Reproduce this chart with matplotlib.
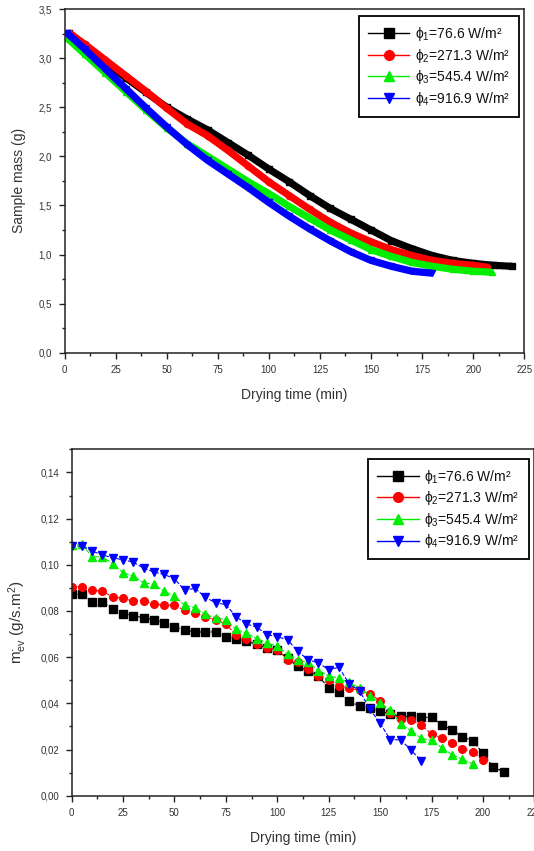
import matplotlib.pyplot as plt
from matplotlib.lines import Line2D
from matplotlib.ticker import MultipleLocator, FuncFormatter

plt.rcParams['font.family'] = ['Liberation Sans', 'DejaVu Sans']
plt.rcParams['mathtext.fontset'] = 'custom'
plt.rcParams['mathtext.rm'] = 'Liberation Sans'
plt.rcParams['mathtext.it'] = 'Liberation Sans'

labels = ['ϕ$_1$=76.6 W/m²', 'ϕ$_2$=271.3 W/m²', 'ϕ$_3$=545.4 W/m²', 'ϕ$_4$=916.9 W/m²']
colors = ['#000000', '#ff0000', '#00ee00', '#0000ff']
markers = ['s', 'o', '^', 'v']

# top chart: sample mass (g) vs drying time (min)
t_mass_1 = [2, 10, 20, 30, 40, 50, 60, 70, 80, 90, 100, 110, 120, 130, 140, 150, 160, 170, 180, 190, 200, 210, 219]
mass_1 = [3.26, 3.13, 2.96, 2.80, 2.65, 2.50, 2.38, 2.27, 2.14, 2.01, 1.87, 1.74, 1.60, 1.47, 1.36, 1.25,
          1.14, 1.06, 0.99, 0.94, 0.91, 0.89, 0.88]
t_mass_2 = [2, 10, 20, 30, 40, 50, 60, 70, 80, 90, 100, 110, 120, 130, 140, 150, 160, 170, 180, 190, 200, 207]
mass_2 = [3.26, 3.14, 2.98, 2.82, 2.66, 2.49, 2.33, 2.21, 2.06, 1.90, 1.74, 1.60, 1.46, 1.33, 1.22, 1.13,
          1.05, 0.99, 0.94, 0.91, 0.89, 0.87]
t_mass_3 = [1, 10, 20, 30, 40, 50, 60, 70, 80, 90, 100, 110, 120, 130, 140, 150, 160, 170, 180, 190, 200, 209]
mass_3 = [3.21, 3.04, 2.85, 2.66, 2.47, 2.29, 2.13, 2.00, 1.87, 1.74, 1.62, 1.49, 1.37, 1.25, 1.15, 1.05,
          0.98, 0.92, 0.88, 0.85, 0.83, 0.82]
t_mass_4 = [1, 10, 20, 30, 40, 50, 60, 70, 80, 90, 100, 110, 120, 130, 140, 150, 160, 170, 180]
mass_4 = [3.26, 3.09, 2.89, 2.69, 2.49, 2.30, 2.12, 1.96, 1.82, 1.68, 1.53, 1.39, 1.26, 1.14, 1.03, 0.94,
          0.88, 0.83, 0.81]

# bottom chart: evaporation rate (g/s.m2) vs drying time (min)
t_rate_1 = [0, 5, 10, 15, 20, 25, 30, 35, 40, 45, 50, 55, 60, 65, 70, 75, 80, 85, 90, 95, 100, 105, 110,
            115, 120, 125, 130, 135, 140, 145, 150, 155, 160, 165, 170, 175, 180, 185, 190, 195, 200, 205, 210]
rate_1 = [0.0872, 0.0872, 0.0840, 0.0840, 0.0809, 0.0789, 0.0780, 0.0770, 0.0762, 0.0750, 0.0731, 0.0718,
          0.0709, 0.0709, 0.0709, 0.0689, 0.0680, 0.0669, 0.0656, 0.0640, 0.0630, 0.0595, 0.0560, 0.0541,
          0.0517, 0.0468, 0.0450, 0.0408, 0.0389, 0.0380, 0.0365, 0.0355, 0.0343, 0.0343, 0.0339, 0.0339,
          0.0307, 0.0285, 0.0256, 0.0237, 0.0184, 0.0123, 0.0104]
t_rate_2 = [0, 5, 10, 15, 20, 25, 30, 35, 40, 45, 50, 55, 60, 65, 70, 75, 80, 85, 90, 95, 100, 105, 110,
            115, 120, 125, 130, 135, 140, 145, 150, 155, 160, 165, 170, 175, 180, 185, 190, 195, 200]
rate_2 = [0.0905, 0.0905, 0.0890, 0.0885, 0.0861, 0.0854, 0.0843, 0.0843, 0.0830, 0.0825, 0.0825, 0.0803,
          0.0793, 0.0775, 0.0762, 0.0744, 0.0696, 0.0679, 0.0659, 0.0640, 0.0633, 0.0589, 0.0578, 0.0549,
          0.0520, 0.0502, 0.0476, 0.0466, 0.0456, 0.0442, 0.0411, 0.0358, 0.0332, 0.0326, 0.0307, 0.0266,
          0.0249, 0.0230, 0.0204, 0.0191, 0.0155]
t_rate_3 = [0, 5, 10, 15, 20, 25, 30, 35, 40, 45, 50, 55, 60, 65, 70, 75, 80, 85, 90, 95, 100, 105, 110,
            115, 120, 125, 130, 135, 140, 145, 150, 155, 160, 165, 170, 175, 180, 185, 190, 195]
rate_3 = [0.1084, 0.1089, 0.1035, 0.1035, 0.1005, 0.0966, 0.0951, 0.0922, 0.0915, 0.0886, 0.0864, 0.0825,
          0.0814, 0.0785, 0.0770, 0.0763, 0.0720, 0.0705, 0.0680, 0.0662, 0.0647, 0.0614, 0.0586, 0.0578,
          0.0541, 0.0520, 0.0508, 0.0491, 0.0466, 0.0433, 0.0401, 0.0372, 0.0310, 0.0281, 0.0249, 0.0239,
          0.0208, 0.0177, 0.0158, 0.0138]
t_rate_4 = [0, 5, 10, 15, 20, 25, 30, 35, 40, 45, 50, 55, 60, 65, 70, 75, 80, 85, 90, 95, 100, 105, 110,
            115, 120, 125, 130, 135, 140, 145, 150, 155, 160, 165, 170]
rate_4 = [0.1081, 0.1081, 0.1060, 0.1042, 0.1031, 0.1021, 0.1012, 0.0985, 0.0969, 0.0958, 0.0940, 0.0890,
          0.0898, 0.0860, 0.0835, 0.0828, 0.0775, 0.0744, 0.0730, 0.0698, 0.0688, 0.0676, 0.0625, 0.0589,
          0.0575, 0.0546, 0.0556, 0.0484, 0.0455, 0.0375, 0.0314, 0.0242, 0.0242, 0.0198, 0.0151]

mass_t = [t_mass_1, t_mass_2, t_mass_3, t_mass_4]
mass_v = [mass_1, mass_2, mass_3, mass_4]
rate_t = [t_rate_1, t_rate_2, t_rate_3, t_rate_4]
rate_v = [rate_1, rate_2, rate_3, rate_4]


def comma(fmt):
    return FuncFormatter(lambda v, p: (fmt % v).replace('.', ','))


def style_axes(ax, ymajor, yminor, yfmt, xpad):
    ax.set_xlim(0, 225)
    ax.xaxis.set_major_locator(MultipleLocator(25))
    ax.xaxis.set_minor_locator(MultipleLocator(12.5))
    ax.yaxis.set_major_locator(MultipleLocator(ymajor))
    ax.yaxis.set_minor_locator(MultipleLocator(yminor))
    ax.yaxis.set_major_formatter(comma(yfmt))
    ax.tick_params(which='both', direction='out', top=False, right=False,
                   labelsize=7, labelcolor='#333333', width=1.0, color='#222222')
    ax.tick_params(which='major', length=4.5, pad=4.5)
    ax.tick_params(which='minor', length=2.5)
    for s in ax.spines.values():
        s.set_linewidth(1.1)
        s.set_color('#222222')
    ax.set_xlabel('Drying time (min)', fontsize=10, color='#333333', labelpad=xpad)


def add_legend(ax, anchor):
    handles = [Line2D([], [], color=c, marker=m, lw=1, markersize=7) for c, m in zip(colors, markers)]
    leg = ax.legend(handles, labels, loc='upper right', bbox_to_anchor=anchor, fontsize=10,
                    handlelength=3.0, handletextpad=0.4, labelspacing=0.26, borderpad=0.65,
                    borderaxespad=0, fancybox=False, framealpha=1, edgecolor='black')
    leg.get_frame().set_linewidth(1.3)
    for txt in leg.get_texts():
        txt.set_color('#111111')


fig = plt.figure(figsize=(5.34, 8.51), dpi=100)

ax1 = fig.add_axes([0.1208, 0.5855, 0.861, 0.4039])
for t, v, c, m in zip(mass_t, mass_v, colors, markers):
    ax1.plot(t, v, color=c, lw=5.2, marker=m, markersize=4.5, solid_capstyle='butt')
ax1.set_ylim(0, 3.5)
style_axes(ax1, 0.5, 0.25, '%.1f', 9)
ax1.set_ylabel('Sample mass (g)', fontsize=10, color='#333333', labelpad=9)
add_legend(ax1, (0.989, 0.98))

ax2 = fig.add_axes([0.1339, 0.065, 0.8668, 0.407])
for t, v, c, m in zip(rate_t, rate_v, colors, markers):
    ax2.plot(t, v, color=c, lw=0.8, ls='--', marker=m, markersize=5.5)
ax2.set_ylim(0, 0.15)
style_axes(ax2, 0.02, 0.01, '%.2f', 9)
ax2.set_ylabel('m$^{\\cdot}_{ev}$ (g/s.m$^2$)', fontsize=11, color='#333333', labelpad=8)
add_legend(ax2, (0.9875, 0.9735))

fig.savefig('out.png', dpi=100)
